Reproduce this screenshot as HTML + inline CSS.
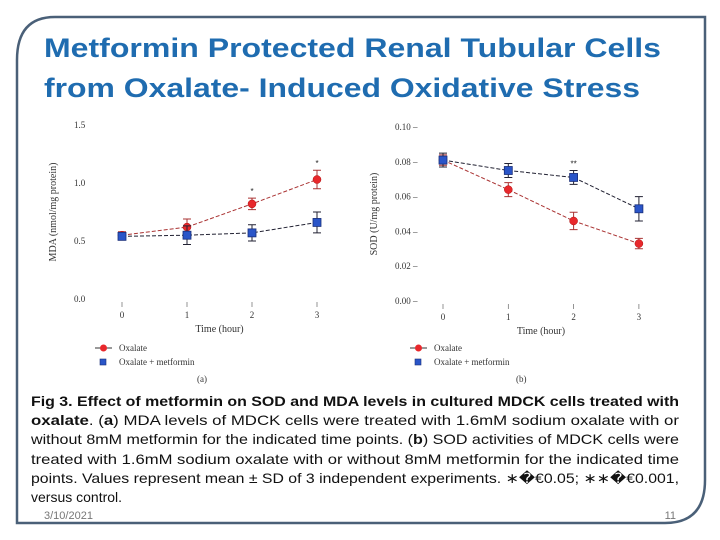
<!DOCTYPE html>
<html><head><meta charset="utf-8"><style>
html,body{margin:0;padding:0;background:#fff;}
svg{display:block;font-family:"Liberation Sans",sans-serif;}
</style></head><body>
<svg width="720" height="540" viewBox="0 0 720 540">
<path d="M17,523 L17,60 Q17,17 55,17 L705,17 L705,480 Q705,523 665,523 Z" fill="none" stroke="#4a6078" stroke-width="2.5"/>
<text x="44" y="57" font-size="27" font-weight="bold" fill="#1f6cb0" textLength="617" lengthAdjust="spacingAndGlyphs">Metformin Protected Renal Tubular Cells</text>
<text x="44" y="97" font-size="27" font-weight="bold" fill="#1f6cb0" textLength="596" lengthAdjust="spacingAndGlyphs">from Oxalate- Induced Oxidative Stress</text>
<g id="charts"></g>
<g font-size="14" fill="#111">
<text x="31" y="406" textLength="648" lengthAdjust="spacingAndGlyphs" font-weight="bold">Fig 3. Effect of metformin on SOD and MDA levels in cultured MDCK cells treated with</text>
<text x="31" y="425" textLength="648" lengthAdjust="spacingAndGlyphs"><tspan font-weight="bold">oxalate</tspan>. (<tspan font-weight="bold">a</tspan>) MDA levels of MDCK cells were treated with 1.6mM sodium oxalate with or</text>
<text x="31" y="444" textLength="648" lengthAdjust="spacingAndGlyphs">without 8mM metformin for the indicated time points. (<tspan font-weight="bold">b</tspan>) SOD activities of MDCK cells were</text>
<text x="31" y="464" textLength="648" lengthAdjust="spacingAndGlyphs">treated with 1.6mM sodium oxalate with or without 8mM metformin for the indicated time</text>
<text x="31" y="483" textLength="648" lengthAdjust="spacingAndGlyphs">points. Values represent mean ± SD of 3 independent experiments. ∗�€0.05; ∗∗�€0.001,</text>
<text x="31" y="502">versus control.</text>
</g>
<text x="44" y="519" font-size="11" fill="#777">3/10/2021</text>
<text x="676" y="519" font-size="11" fill="#777" text-anchor="end">11</text>
</svg>
<script>
const times=[0,1,2,3];
const mdaOx=[0.55,0.62,0.82,1.03];
const mdaOxErr=[0.03,0.07,0.05,0.08];
const mdaMet=[0.54,0.55,0.57,0.66];
const mdaMetErr=[0.03,0.08,0.07,0.09];
const mdaTicks=[0.0,0.5,1.0,1.5];
const sodOx=[0.081,0.064,0.046,0.033];
const sodOxErr=[0.003,0.004,0.005,0.003];
const sodMet=[0.081,0.075,0.071,0.053];
const sodMetErr=[0.004,0.004,0.004,0.007];
const sodTicks=[0.00,0.02,0.04,0.06,0.08,0.10];
const xLabels=["0","1","2","3"];

const NS="http://www.w3.org/2000/svg";
const root=document.getElementById('charts');
function mk(tag,attrs,parent,txt){const e=document.createElementNS(NS,tag);for(const k in attrs)e.setAttribute(k,attrs[k]);if(txt!==undefined)e.textContent=txt;(parent||root).appendChild(e);return e;}

function chart(cfg){
  const g=mk('g',{});
  
  
  const x=v=>cfg.x0+v*cfg.dx;
  const y=v=>cfg.yb-(v-cfg.ymin)/(cfg.ymax-cfg.ymin)*(cfg.yb-cfg.yt);
  cfg.ticks.forEach(t=>{
    const l=mk('text',{x:cfg.x0-48,y:y(t)+3,'font-size':9,fill:'#333','font-family':'Liberation Serif'},g,t.toFixed(cfg.dec)+(cfg.dash?' –':''));
    
    
  });
  times.forEach((t,i)=>{
    mk('line',{x1:x(t),x2:x(t),y1:cfg.yb+3,y2:cfg.yb+8,stroke:'#666','stroke-width':0.7},g);
    const l=mk('text',{x:x(t),y:cfg.yb+19,'font-size':9,fill:'#333','text-anchor':'middle','font-family':'Liberation Serif'},g,xLabels[i]);
    
    
  });
  const xt=mk('text',{x:x(1.5),y:cfg.yb+33,'font-size':10,fill:'#333','text-anchor':'middle','font-family':'Liberation Serif'},g,'Time (hour)');
  
  
  const yt=mk('text',{x:0,y:0,'font-size':10,fill:'#333','text-anchor':'middle','font-family':'Liberation Serif',transform:`translate(${cfg.x0-66},${(cfg.yt+cfg.yb)/2}) rotate(-90)`},g,cfg.ytitle);
  
  
  function series(vals,errs,color,sq,nm){
    const sg=mk('g',{},g);
    
    
    mk('polyline',{points:vals.map((v,i)=>x(times[i])+','+y(v)).join(' '),fill:'none',stroke:color,'stroke-width':1,'stroke-dasharray':'4,2'},sg);
    vals.forEach((v,i)=>{
      const cx=x(times[i]),hi=y(v+errs[i]),lo=y(v-errs[i]);
      mk('path',{d:`M${cx},${hi}V${lo}M${cx-4},${hi}H${cx+4}M${cx-4},${lo}H${cx+4}`,stroke:color,'stroke-width':1,fill:'none'},sg);
      let m;
      if(sq)m=mk('rect',{x:cx-4,y:y(v)-4,width:8,height:8,fill:'#2a55c8',stroke:'#1a2f7a','stroke-width':0.8},sg);
      else m=mk('circle',{cx:cx,cy:y(v),r:4,fill:'#e8282c',stroke:'#b01010','stroke-width':0.5},sg);
      
      
    });
  }
  series(cfg.ox,cfg.oxE,'#a33','', 'series-oxalate');
  series(cfg.met,cfg.metE,'#223',true,'series-oxalate-metformin');
  cfg.stars.forEach(s=>{mk('text',{x:x(s[0]),y:y(s[1])-4,'font-size':8,'text-anchor':'middle',fill:'#222'},g,s[2]);});
  const lg=mk('g',{},g);
  
  
  mk('line',{x1:cfg.lx,x2:cfg.lx+17,y1:348,y2:348,stroke:'#333'},lg);
  mk('circle',{cx:cfg.lx+8.5,cy:348,r:3.5,fill:'#e8282c'},lg);
  mk('text',{x:cfg.lx+24,y:351,'font-size':9,fill:'#333','font-family':'Liberation Serif'},lg,'Oxalate');
  mk('rect',{x:cfg.lx+5,y:359,width:6,height:6,fill:'#2a55c8',stroke:'#1a2f7a','stroke-width':0.6},lg);
  mk('text',{x:cfg.lx+24,y:365,'font-size':9,fill:'#333','font-family':'Liberation Serif'},lg,'Oxalate + metformin');
  mk('text',{x:cfg.x0+(cfg.name==='mda-chart'?75:73),y:382,'font-size':9,fill:'#333','font-family':'Liberation Serif'},g,cfg.panel);
}
chart({name:'mda-chart',x0:122,dx:65,yt:125,yb:299,ymin:0,ymax:1.5,ticks:mdaTicks,dec:1,dash:false,
  ytitle:'MDA (nmol/mg protein)',ox:mdaOx,oxE:mdaOxErr,met:mdaMet,metE:mdaMetErr,
  stars:[[3,1.11,'*'],[2,0.87,'*']],lx:95,panel:'(a)'});
chart({name:'sod-chart',x0:443,dx:65.3,yt:127,yb:301,ymin:0,ymax:0.10,ticks:sodTicks,dec:2,dash:true,
  ytitle:'SOD (U/mg protein)',ox:sodOx,oxE:sodOxErr,met:sodMet,metE:sodMetErr,
  stars:[[2,0.075,'**']],lx:410,panel:'(b)'});
</script>
</body></html>
